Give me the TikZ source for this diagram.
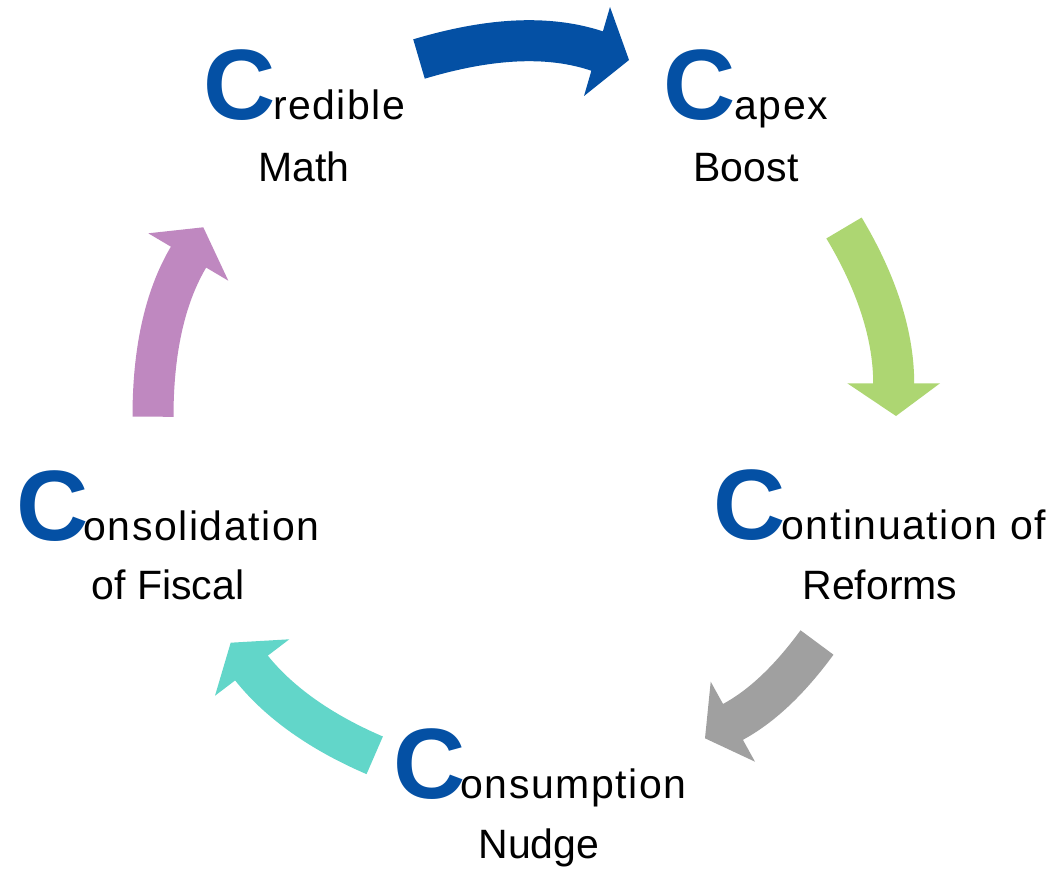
\documentclass[tikz,border=0pt]{standalone}
\usepackage{fontspec}
\setmainfont{Liberation Sans}
\newfontfamily\spacedfont[LetterSpace=3.7]{Liberation Sans}
\definecolor{cblue}{RGB}{4,80,164}
\definecolor{cgreen}{RGB}{173,214,114}
\definecolor{cgray}{RGB}{160,160,160}
\definecolor{cteal}{RGB}{98,214,201}
\definecolor{cpurple}{RGB}{191,136,192}
\tikzset{
  bigc/.style={inner sep=0pt, anchor=base west, text=cblue, font=\fontsize{100}{100}\selectfont\bfseries},
  restword/.style={inner sep=0pt, anchor=base west, text=black, font=\spacedfont\fontsize{41}{41}\selectfont},
  secondline/.style={inner sep=0pt, anchor=base, text=black, font=\fontsize{41}{41}\selectfont},
  band/.style={line width=41pt, line cap=butt, line join=round},
}
\begin{document}
\begin{tikzpicture}[x=1pt,y=-1pt]
\fill[white] (0,0) rectangle (1056,869);
\useasboundingbox (0,0) rectangle (1056,869);

% ---- labels ----
\node[bigc] (c1C) at (203,120) {C};
\node[restword] (c1t) at (273,120) {redible};
\node[secondline] (c1b) at (304,182) {Math};

\node[bigc] (c2C) at (663,120) {C};
\node[restword] (c2t) at (734.5,120) {apex};
\node[secondline] (c2b) at (746,182) {Boost};

\node[bigc] (c3C) at (713,539) {C};
\node[restword] (c3t) at (781.5,539) {ontinuation of};
\node[secondline] (c3b) at (880,599) {Reforms};

\node[bigc] (c5C) at (16,540) {C};
\node[restword] (c5t) at (83.5,540) {onsolidation};
\node[secondline] (c5b) at (168,599) {of Fiscal};

\node[bigc] (c4C) at (393,798) {C};
\node[restword] (c4t) at (460.5,798) {onsumption};
\node[secondline] (c4b) at (539,858) {Nudge};

% ---- blue arrow ----
\coordinate (b0) at (419,59);
\coordinate (b1) at (597,51);
\coordinate (b1e) at (599.8,52);
\coordinate (bt) at (629,60);
\coordinate (bu) at (610,7);
\coordinate (bd) at (584,96);
\draw[band, cblue] (b0) .. controls (476,42) and (540,32) .. (b1) -- (b1e);
\fill[cblue] (bu) -- (bt) -- (bd) -- cycle;

% ---- green arrow ----
\coordinate (g0) at (844,228);
\coordinate (g1) at (893.7,383.3);
\coordinate (g1e) at (893.7,386);
\coordinate (gt) at (896,416);
\coordinate (gl) at (847.3,383.3);
\coordinate (gr) at (940,383.3);
\draw[band, cgreen] (g0) .. controls (871.8,274.3) and (893.7,329) .. (g1) -- (g1e);
\fill[cgreen] (gl) -- (gt) -- (gr) -- cycle;

% ---- gray arrow ----
\coordinate (r0) at (817,642.5);
\coordinate (r1) at (733.3,721.7);
\coordinate (r1e) at (730.7,723.1);
\coordinate (rt) at (705,738.3);
\coordinate (ru) at (710.7,681.7);
\coordinate (rd) at (755,761.7);
\draw[band, cgray] (r0) .. controls (794.5,673.1) and (766.7,703.5) .. (r1) -- (r1e);
\fill[cgray] (ru) -- (rt) -- (rd) -- cycle;

% ---- teal arrow ----
\coordinate (t0) at (374.7,755.3);
\coordinate (t1) at (251.7,668.3);
\coordinate (t1e) at (249.8,666);
\coordinate (tt) at (230.7,642.7);
\coordinate (tu) at (289.3,639.3);
\coordinate (td) at (215,695.7);
\draw[band, cteal] (t0) .. controls (328.7,735.6) and (283,707.3) .. (t1) -- (t1e);
\fill[cteal] (tu) -- (tt) -- (td) -- cycle;

% ---- purple arrow ----
\coordinate (p0) at (153,416.7);
\coordinate (p1) at (188.3,257.5);
\coordinate (p1e) at (189.8,254.9);
\coordinate (pt) at (203.3,227.3);
\coordinate (pl) at (148.3,233.3);
\coordinate (pr) at (228.3,280.7);
\draw[band, cpurple] (p0) .. controls (153,362.7) and (160.9,304) .. (p1) -- (p1e);
\fill[cpurple] (pl) -- (pt) -- (pr) -- cycle;
\end{tikzpicture}
\end{document}
